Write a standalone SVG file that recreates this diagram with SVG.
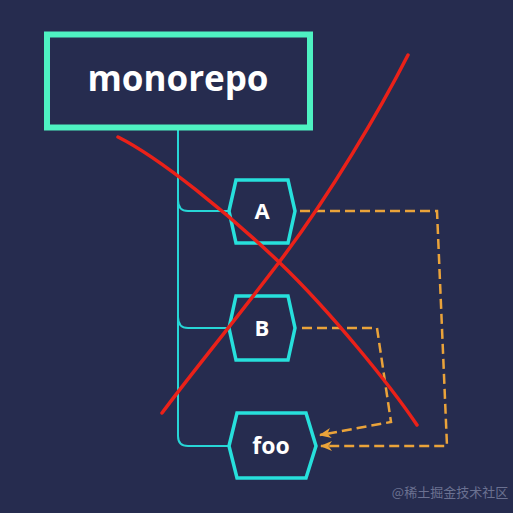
<svg xmlns="http://www.w3.org/2000/svg" width="513" height="513" viewBox="0 0 513 513">
<defs>
<style>
.hex{fill:#262c4f;stroke:#27e0dc;stroke-width:3.5;stroke-linejoin:miter}
.trunk{fill:none;stroke:#27d6d6;stroke-width:2}
.dep{fill:none;stroke:#eaa33a;stroke-width:2.5;stroke-dasharray:10 5}
.lbl{font-family:"Open Sans","Noto Sans","Liberation Sans",sans-serif;font-weight:700;fill:#ffffff;text-anchor:middle}
.x{fill:none;stroke:#ea2119;stroke-width:3.5;stroke-linecap:round;stroke-linejoin:round}
</style>
<marker id="ah" viewBox="0 0 12 10" refX="11" refY="5" markerWidth="12" markerHeight="10" markerUnits="userSpaceOnUse" orient="auto">
<path d="M12,5 L0,0 L3.5,5 L0,10 Z" fill="#eaa33a"/>
</marker>
</defs>
<rect width="513" height="513" fill="#262c4f"/>
<g id="connectors">
<path class="trunk" d="M178,130 V436 Q178,446 188,446 H229"/>
<path class="trunk" d="M178,200 Q178,211 188,211 H229"/>
<path class="trunk" d="M178,317 Q178,328 188,328 H229"/>
<path class="dep" d="M300,211 H437 L447,446 H321" marker-end="url(#ah)"/>
<path class="dep" d="M302,328 H377 L391,422 L320,435" marker-end="url(#ah)"/>
</g>
<g id="monorepo">
<rect x="47" y="34.5" width="263" height="93" fill="#262c4f" stroke="#4ef2c2" stroke-width="6"/>
<text class="lbl" x="178" y="91" font-size="35">monorepo</text>
</g>
<g id="A">
<polygon class="hex" points="229,211 236,180 288,180 295,211 288,243 236,243"/>
<text class="lbl" x="262" y="219" font-size="22">A</text>
</g>
<g id="B">
<polygon class="hex" points="229,328 236,296 288,296 295,328 288,360 236,360"/>
<text class="lbl" x="262" y="336" font-size="22">B</text>
</g>
<g id="foo">
<polygon class="hex" points="229,446 237,413 306,413 316,446 306,478 237,478"/>
<text class="lbl" x="271" y="454" font-size="23" font-weight="600">foo</text>
</g>
<g id="cross">
<path class="x" d="M118,137 C160,158 230,215 280,263 S390,385 417,425"/>
<path class="x" d="M408,55 C380,110 330,195 280,261 S190,375 162,413"/>
</g>
<text x="450" y="497" font-family="'Noto Sans CJK SC','Noto Sans',sans-serif" font-size="13" fill="#6b7191" text-anchor="middle">@稀土掘金技术社区</text>
</svg>
